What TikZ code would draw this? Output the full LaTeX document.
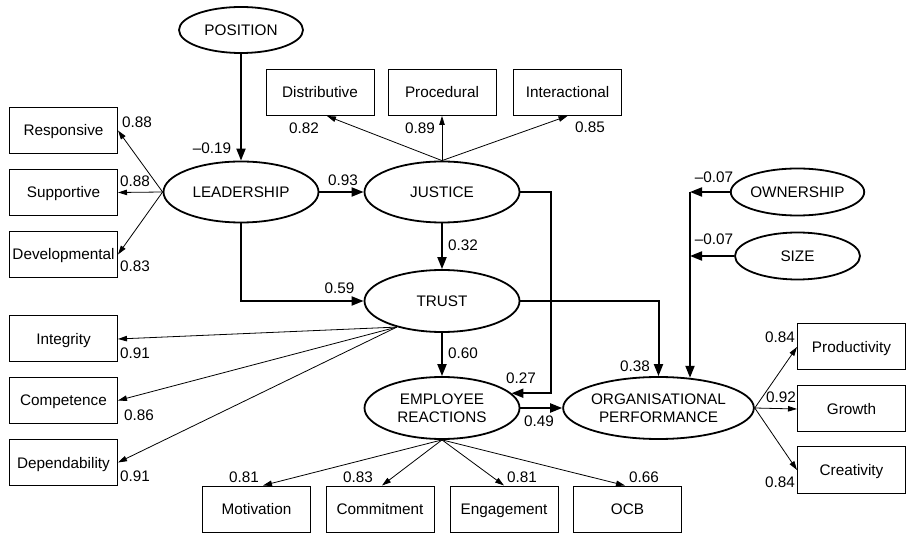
\documentclass[tikz,border=0pt]{standalone}
\usepackage{fontspec}
\setmainfont{Liberation Sans}
\usetikzlibrary{shapes.geometric,arrows.meta,calc}
\begin{document}
\begin{tikzpicture}[x=1pt,y=-1pt,
  font=\fontsize{15.3}{18.5}\selectfont,
  lat/.style={ellipse,draw,line width=1.8pt,inner sep=0pt,align=center},
  one/.style={text height=11pt,text depth=0pt},
  ind/.style={rectangle,draw,line width=1pt,minimum width=108pt,minimum height=46pt,inner sep=0pt,text height=11pt,text depth=0pt},
  thk/.style={line width=2pt,-{Triangle[length=12pt,width=9pt]}},
  thn/.style={line width=0.8pt,-{Triangle[length=9pt,width=5.5pt]}},
  lbl/.style={inner sep=0pt}]
\useasboundingbox (0,0) rectangle (908,534);
% latent variables
\node[lat,one,minimum width=124pt,minimum height=46pt] (pos) at (241,30) {POSITION};
\node[lat,one,minimum width=155pt,minimum height=61pt] (lead) at (241,192) {LEADERSHIP};
\node[lat,one,minimum width=155pt,minimum height=61pt] (just) at (442,192) {JUSTICE};
\node[lat,one,minimum width=155pt,minimum height=62pt] (trust) at (442,301) {TRUST};
\node[lat,minimum width=155pt,minimum height=62pt] (emp) at (442,408) {EMPLOYEE\\REACTIONS};
\node[lat,minimum width=187pt,minimum height=62pt] (org) at (658.5,408) {ORGANISATIONAL\\PERFORMANCE};
\node[lat,one,minimum width=125pt,minimum height=47pt] (own) at (797.5,192) {OWNERSHIP};
\node[lat,one,minimum width=125pt,minimum height=47pt] (size) at (797.5,256) {SIZE};
% indicators
\node[ind] (dist) at (320,92.5) {Distributive};
\node[ind] (proc) at (442,92.5) {Procedural};
\node[ind] (inter) at (567.5,92.5) {Interactional};
\node[ind] (resp) at (63.5,130.5) {Responsive};
\node[ind] (supp) at (63.5,192.5) {Supportive};
\node[ind] (dev) at (63.5,254.5) {Developmental};
\node[ind] (integ) at (63.5,339) {Integrity};
\node[ind] (comp) at (63.5,400.5) {Competence};
\node[ind] (depend) at (63.5,462.5) {Dependability};
\node[ind] (motiv) at (256.5,509) {Motivation};
\node[ind] (commit) at (380,509) {Commitment};
\node[ind] (engage) at (504,509) {Engagement};
\node[ind] (ocb) at (627.5,509) {OCB};
\node[ind] (prod) at (851.5,347) {Productivity};
\node[ind] (growth) at (851.5,409) {Growth};
\node[ind] (creat) at (851.5,470) {Creativity};
% structural paths
\draw[thk] (pos.south) -- (lead.north);
\draw[thk] (lead) -- (just);
\draw[thk] (lead.south) |- (trust.west);
\draw[thk] (just) -- (trust);
\draw[thk] (trust) -- (emp);
\draw[thk] (just.east) -- ++(31,0) |- (emp.12);
\draw[thk] (trust.east) -| (org.north);
\draw[thk] (emp) -- (org);
\coordinate (j1) at (690,192);
\coordinate (j2) at (690,256);
\draw[thk] (own.west) -- (j1);
\draw[thk] (size.west) -- (j2);
\draw[thk,shorten >=-1.7pt] (j1) -- (j1 |- org.north);
% measurement paths
\draw[thn] (lead.west) -- (resp.east);
\draw[thn] (lead.west) -- (supp.east);
\draw[thn] (lead.west) -- (dev.east);
\draw[thn] (just.north) -- ($(dist.south)+(7,0)$);
\draw[thn] (just.north) -- (proc.south);
\draw[thn] (just.north) -- (inter.south);
\draw[thn] (trust.210) -- (integ.east);
\draw[thn] (trust.210) -- (comp.east);
\draw[thn] (trust.210) -- (depend.east);
\draw[thn] (emp.south) -- ($(motiv.north)+(6.5,0)$);
\draw[thn] (emp.south) -- ($(commit.north)+(2,0)$);
\draw[thn] (emp.south) -- (engage.north);
\draw[thn] (emp.south) -- ($(ocb.north)+(-2.5,0)$);
\draw[thn] (org.east) -- (prod.west);
\draw[thn] (org.east) -- (growth.west);
\draw[thn] (org.east) -- (creat.west);
% coefficient labels
\node[lbl] (c1) at (212,148) {\textendash0.19};
\node[lbl] (c2) at (343,180) {0.93};
\node[lbl] (c3) at (339.5,288) {0.59};
\node[lbl] (c4) at (463,245) {0.32};
\node[lbl] (c5) at (463,353) {0.60};
\node[lbl] (c6) at (521,378) {0.27};
\node[lbl] (c7) at (635,366) {0.38};
\node[lbl] (c8) at (539,421) {0.49};
\node[lbl] (c9) at (714,177) {\textendash0.07};
\node[lbl] (c10) at (714,239) {\textendash0.07};
% loading labels
\node[lbl] (m1) at (137,122) {0.88};
\node[lbl] (m2) at (135,181) {0.88};
\node[lbl] (m3) at (135,266) {0.83};
\node[lbl] (m4) at (304,128) {0.82};
\node[lbl] (m5) at (420,128) {0.89};
\node[lbl] (m6) at (590,127) {0.85};
\node[lbl] (m7) at (135,353) {0.91};
\node[lbl] (m8) at (139,415) {0.86};
\node[lbl] (m9) at (135,476) {0.91};
\node[lbl] (m10) at (244,477) {0.81};
\node[lbl] (m11) at (358,477) {0.83};
\node[lbl] (m12) at (522,477) {0.81};
\node[lbl] (m13) at (644,477) {0.66};
\node[lbl] (m14) at (780,337) {0.84};
\node[lbl] (m15) at (781,397) {0.92};
\node[lbl] (m16) at (780,482) {0.84};
\end{tikzpicture}
\end{document}
